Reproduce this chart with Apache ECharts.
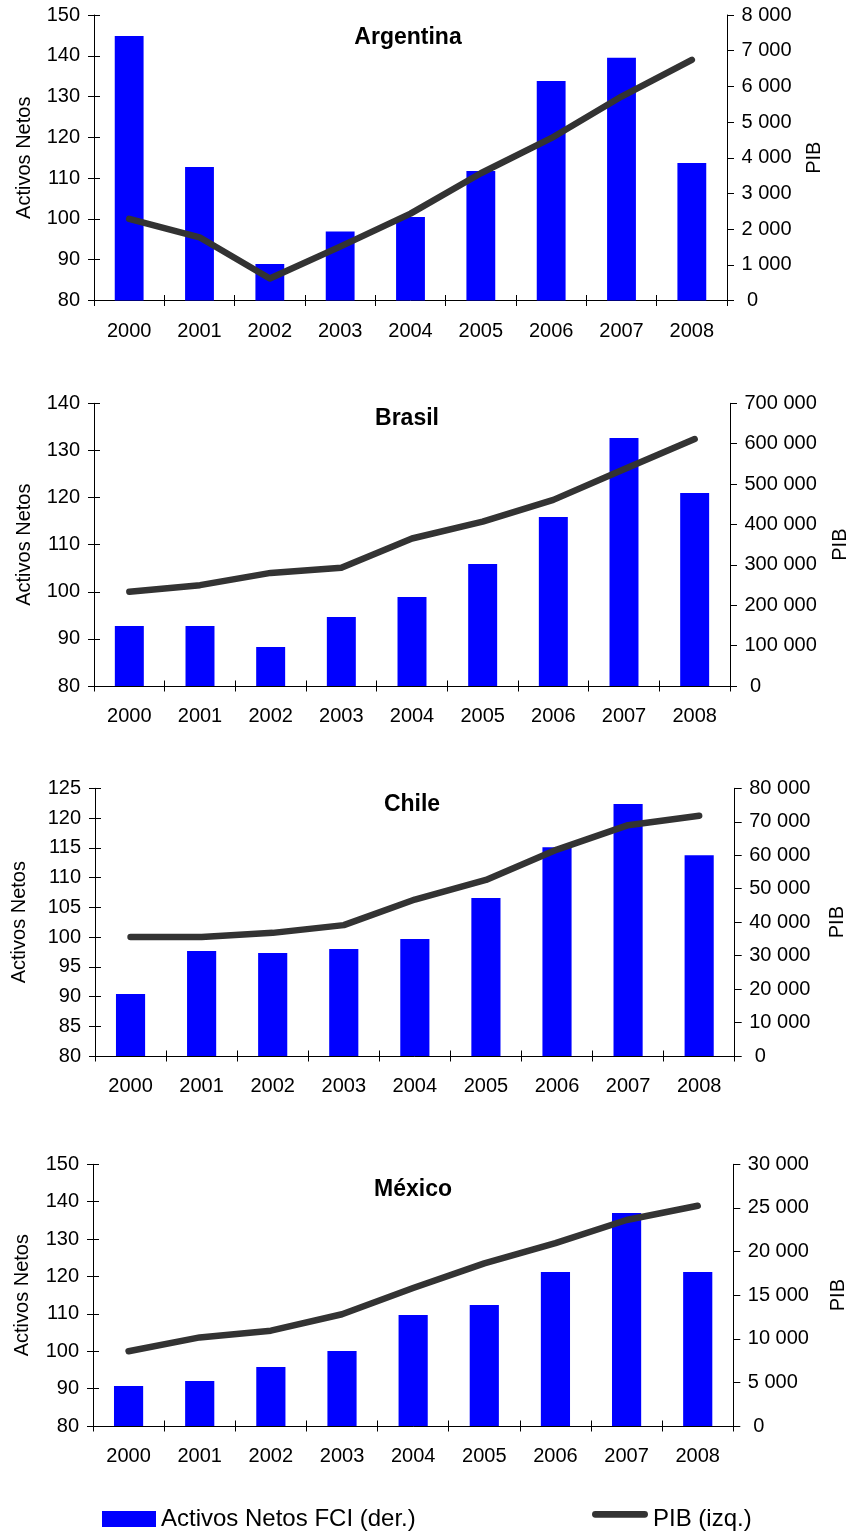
<!DOCTYPE html>
<html>
<head>
<meta charset="utf-8">
<script src="https://cdn.jsdelivr.net/npm/echarts@6/dist/echarts.min.js"></script>
<style>
  html, body { margin: 0; padding: 0; background: #fff; }
  #chart { width: 849px; height: 1534px; }
</style>
</head>
<body>
<div id="chart"></div>
<script>
// Years shown on every panel
const years = ['2000', '2001', '2002', '2003', '2004', '2005', '2006', '2007', '2008'];

// Argentina
const fciArgentina = [7410, 3740, 1020, 1930, 2340, 3630, 6150, 6800, 3850];
const pibArgentina = [100, 95.5, 85.4, 93.2, 101.3, 111.2, 119.8, 130.0, 139.0];

// Brasil
const fciBrasil = [148600, 148600, 96600, 170900, 220400, 302000, 418500, 614000, 478000];
const pibBrasil = [100, 101.4, 104.0, 105.1, 111.3, 114.9, 119.5, 126.0, 132.4];

// Chile
const fciChile = [18500, 31400, 30800, 32000, 35000, 47200, 62400, 75300, 60000];
const pibChile = [100, 100, 100.7, 102.0, 106.3, 109.6, 114.7, 118.8, 120.4];

// México
const fciMexico = [4590, 5160, 6760, 8600, 12720, 13870, 17650, 24410, 17650];
const pibMexico = [100, 103.7, 105.5, 109.9, 116.9, 123.5, 128.9, 135.1, 138.9];

// Axis scales: [min, max, interval]
const leftScales  = [[80, 150, 10], [80, 140, 10], [80, 125, 5], [80, 150, 10]];
const rightScales = [[0, 8000, 1000], [0, 700000, 100000], [0, 80000, 10000], [0, 30000, 5000]];

const countries = ['Argentina', 'Brasil', 'Chile', 'México'];
const fciSeries = [fciArgentina, fciBrasil, fciChile, fciMexico];
const pibSeries = [pibArgentina, pibBrasil, pibChile, pibMexico];

const BAR_NAME = 'Activos Netos FCI (der.)';
const LINE_NAME = 'PIB (izq.)';

// Panel layout (pixels)
const layout = [
  { left: 94, right: 122,   top: 15,    height: 285.5, leftGap: 59.5, rightGap: 77.5, titleX: 408, titleTop: 26 },
  { left: 94, right: 119,   top: 403.3, height: 282.7, leftGap: 59.5, rightGap: 100.8, titleX: 407, titleTop: 407.5 },
  { left: 95, right: 114.3, top: 788.3, height: 267.7, leftGap: 65.5, rightGap: 92.4, titleX: 412, titleTop: 793 },
  { left: 93, right: 115.7, top: 1164.3, height: 261.7, leftGap: 61,  rightGap: 95.2, titleX: 413, titleTop: 1178.5 }
];

const FONT = "'Liberation Sans', Arial, Helvetica, sans-serif";
const INK = '#000';

function thousands(v) {
  if (v === 0) return ' 0';
  return String(v).replace(/\B(?=(\d{3})+(?!\d))/g, ' ');
}

const grid = [], xAxis = [], yAxis = [], series = [], title = [];

countries.forEach(function (name, i) {
  const L = layout[i];
  grid.push({
    left: L.left, right: L.right, top: L.top, height: L.height,
    containLabel: false, outerBoundsMode: 'none'
  });

  title.push({
    text: name,
    left: L.titleX,
    top: L.titleTop,
    textAlign: 'center',
    padding: 0,
    textStyle: { fontFamily: FONT, fontSize: 23, fontWeight: 'bold', color: INK }
  });

  // category axis with outward ticks and year labels
  xAxis.push({
    type: 'category', gridIndex: i, data: years, position: 'bottom',
    boundaryGap: true,
    axisLine: { show: true, lineStyle: { color: INK, width: 1 } },
    axisTick: { show: true, inside: false, length: 5.5, interval: 0, alignWithLabel: false, lineStyle: { color: INK } },
    axisLabel: { show: true, interval: 0, color: INK, fontFamily: FONT, fontSize: 20, margin: 20.5 },
    splitLine: { show: false }
  });
  // companion axis that draws the inward half of the crossing ticks
  xAxis.push({
    type: 'category', gridIndex: i, data: years, position: 'bottom',
    boundaryGap: true,
    axisLine: { show: false },
    axisTick: { show: true, inside: true, length: 5.5, interval: 0, alignWithLabel: false, lineStyle: { color: INK } },
    axisLabel: { show: false },
    splitLine: { show: false }
  });

  const ls = leftScales[i], rs = rightScales[i];
  // left value axis
  yAxis.push({
    type: 'value', gridIndex: i, position: 'left',
    min: ls[0], max: ls[1], interval: ls[2],
    name: 'Activos Netos', nameLocation: 'middle', nameRotate: 90, nameGap: L.leftGap,
    nameTextStyle: { fontFamily: FONT, fontSize: 20, color: INK },
    axisLine: { show: true, lineStyle: { color: INK, width: 1 } },
    axisTick: { show: true, inside: false, length: 6, lineStyle: { color: INK } },
    axisLabel: { color: INK, fontFamily: FONT, fontSize: 20, margin: 14 },
    splitLine: { show: false }
  });
  // right value axis
  yAxis.push({
    type: 'value', gridIndex: i, position: 'right',
    min: rs[0], max: rs[1], interval: rs[2],
    name: 'PIB', nameLocation: 'middle', nameRotate: 90, nameGap: L.rightGap,
    nameTextStyle: { fontFamily: FONT, fontSize: 20, color: INK },
    axisLine: { show: true, lineStyle: { color: INK, width: 1 } },
    axisTick: { show: true, inside: false, length: 7, lineStyle: { color: INK } },
    axisLabel: { color: INK, fontFamily: FONT, fontSize: 20, margin: 14.5, align: 'left', formatter: thousands },
    splitLine: { show: false }
  });
  // inward half of the left crossing ticks
  yAxis.push({
    type: 'value', gridIndex: i, position: 'left',
    min: ls[0], max: ls[1], interval: ls[2],
    axisLine: { show: false },
    axisTick: { show: true, inside: true, length: 6, lineStyle: { color: INK } },
    axisLabel: { show: false },
    splitLine: { show: false }
  });

  series.push({
    name: BAR_NAME, type: 'bar',
    xAxisIndex: i * 2, yAxisIndex: i * 3 + 1,
    data: fciSeries[i],
    barWidth: '41%',
    itemStyle: { color: '#0000ff' },
    z: 2
  });
  series.push({
    name: LINE_NAME, type: 'line',
    xAxisIndex: i * 2, yAxisIndex: i * 3,
    data: pibSeries[i],
    symbol: 'none', showSymbol: false,
    lineStyle: { color: '#333333', width: 6.5, cap: 'round', join: 'round' },
    itemStyle: { color: '#333333' },
    z: 3
  });
});

// Legend key for the line: a rounded bar drawn in the upper part of the key box
const lineKey = 'path://M3.35,0L52.65,0A3.35,3.35,0,0,1,52.65,6.7L3.35,6.7A3.35,3.35,0,0,1,3.35,0ZM0,16L0,16';

const chart = echarts.init(document.getElementById('chart'), null, { renderer: 'canvas' });
chart.setOption({
  animation: false,
  backgroundColor: '#ffffff',
  title: title,
  grid: grid,
  xAxis: xAxis,
  yAxis: yAxis,
  series: series,
  legend: [
    {
      data: [{ name: BAR_NAME, icon: 'rect' }],
      left: 102, top: 1507,
      itemWidth: 54, itemHeight: 16,
      selectedMode: false,
      padding: 0,
      textStyle: { fontFamily: FONT, fontSize: 24, color: INK }
    },
    {
      data: [{ name: LINE_NAME, icon: lineKey, itemStyle: { color: '#333333', borderWidth: 0 } }],
      left: 592, top: 1507,
      itemWidth: 56, itemHeight: 16,
      selectedMode: false,
      padding: 0,
      textStyle: { fontFamily: FONT, fontSize: 24, color: INK }
    }
  ]
});
</script>
</body>
</html>
